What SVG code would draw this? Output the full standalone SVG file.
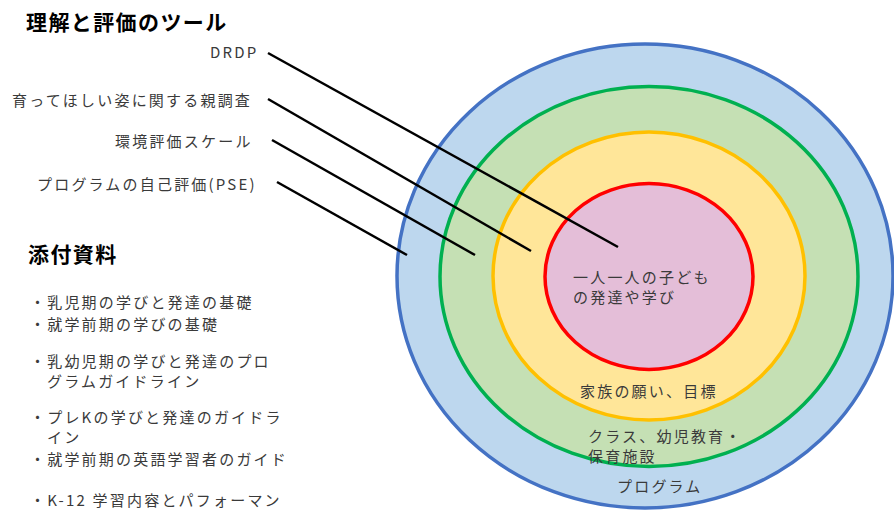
<svg xmlns="http://www.w3.org/2000/svg" width="894" height="512" viewBox="0 0 894 512">
<style>
text{font-family:"Noto Sans CJK JP","Noto Sans",sans-serif;fill:#3a3a3a;font-size:15px;letter-spacing:2.2px}
.h{font-weight:bold;font-size:21px;fill:#000;letter-spacing:1.4px}
.ring{stroke-width:3.5}
.conn line{stroke:#000;stroke-width:2.5}
</style>
<rect width="894" height="512" fill="#fff"/>
<g id="ring-program"><ellipse class="ring" cx="645" cy="276" rx="248" ry="232" fill="#BDD7EE" stroke="#4472C4"/></g>
<g id="ring-class"><ellipse class="ring" cx="649" cy="276.5" rx="209" ry="190" fill="#C5E0B4" stroke="#00B050"/></g>
<g id="ring-family"><ellipse class="ring" cx="649" cy="276" rx="156" ry="144" fill="#FFE699" stroke="#FFC000"/></g>
<g id="ring-child"><ellipse class="ring" cx="649" cy="276.5" rx="104" ry="93" fill="#E4BED8" stroke="#FF0000"/></g>
<g class="conn" id="connectors">
<line x1="268" y1="53" x2="618" y2="247"/>
<line x1="268" y1="99" x2="531" y2="251"/>
<line x1="272" y1="140" x2="475" y2="255"/>
<line x1="277" y1="182" x2="407" y2="255"/>
</g>
<g id="labels-rings">
<text x="573" y="283">一人一人の子ども</text>
<text x="573" y="303">の発達や学び</text>
<text x="580" y="397">家族の願い、目標</text>
<text x="588" y="442">クラス、幼児教育・</text>
<text x="588" y="462">保育施設</text>
<text x="617" y="492">プログラム</text>
</g>
<g id="tools">
<text class="h" x="26" y="30">理解と評価のツール</text>
<text x="210" y="58">DRDP</text>
<text x="12" y="106">育ってほしい姿に関する親調査</text>
<text x="115" y="147">環境評価スケール</text>
<text x="37" y="190">プログラムの自己評価(PSE)</text>
</g>
<g id="attachments">
<text class="h" x="28" y="262">添付資料</text>
<text x="30" y="308">・乳児期の学びと発達の基礎</text>
<text x="30" y="330">・就学前期の学びの基礎</text>
<text x="30" y="367">・乳幼児期の学びと発達のプロ</text>
<text x="47" y="387">グラムガイドライン</text>
<text x="30" y="423">・プレKの学びと発達のガイドラ</text>
<text x="47" y="443">イン</text>
<text x="30" y="465">・就学前期の英語学習者のガイド</text>
<text x="30" y="506">・K-12 学習内容とパフォーマン</text>
</g>
</svg>
